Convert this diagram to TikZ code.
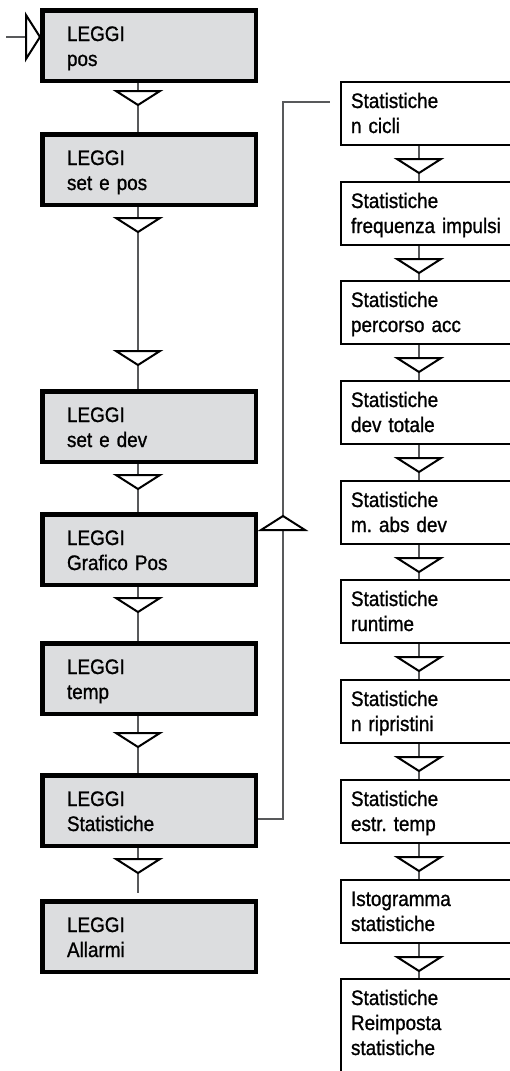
\documentclass[tikz,border=0pt]{standalone}
\usepackage{fontspec}
\setmainfont{Liberation Sans}[FakeStretch=0.9, FakeBold=1]
\usetikzlibrary{calc}
\definecolor{boxgray}{HTML}{DCDDDF}
\definecolor{linegray}{HTML}{58595B}
\tikzset{
  leggi/.style={draw=black, fill=boxgray, line width=2.25pt, anchor=north west,
    text width=82pt, align=left, inner xsep=12.375pt, inner ysep=4.125pt,
    text height=11.25pt, text depth=15.75pt, font=\fontsize{10.5}{12.5}\selectfont},
  statbox/.style={draw=black, fill=white, line width=1pt, anchor=north west,
    text width=85pt, align=left, inner xsep=5pt, inner ysep=1.75pt,
    text height=11.25pt, text depth=16.75pt, font=\fontsize{10.5}{12.5}\selectfont},
  conn/.style={draw=linegray, line width=0.6pt},
  tri/.style={draw=black, fill=white, line width=1pt},
  pics/tridown/.style={code={\path[tri] (-22,0) -- (22,0) -- (0,14) -- cycle;}},
  pics/triup/.style={code={\path[tri] (-22,14) -- (22,14) -- (0,0) -- cycle;}},
  pics/triright/.style={code={\path[tri] (-14,-22) -- (-14,22) -- (0,0) -- cycle;}},
}
\frenchspacing
\begin{document}
\begin{tikzpicture}[x=0.5pt, y=-0.5pt]
    \useasboundingbox (0,0) rectangle (509,1071);
    \coordinate (lx) at (138,0);
    \coordinate (rx) at (419,0);
    \coordinate (start) at (6,37);

    % colonna LEGGI
    \node[leggi] (pos) at (40,8) {LEGGI\\pos};
    \node[leggi] (setpos) at (40,132) {LEGGI\\set e pos};
    \node[leggi] (setdev) at (40,389) {LEGGI\\set e dev};
    \node[leggi] (grafico) at (40,512) {LEGGI\\Grafico Pos};
    \node[leggi] (temp) at (40,641) {LEGGI\\temp};
    \node[leggi] (stat) at (40,773) {LEGGI\\Statistiche};
    \node[leggi] (allarmi) at (40,899) {LEGGI\\Allarmi};

    % colonna Statistiche
    \node[statbox] (ncicli) at (340,81) {Statistiche\\n cicli};
    \node[statbox] (freq) at (340,181) {Statistiche\\frequenza impulsi};
    \node[statbox] (percorso) at (340,280) {Statistiche\\percorso acc};
    \node[statbox] (devtot) at (340,380) {Statistiche\\dev totale};
    \node[statbox] (absdev) at (340,480) {Statistiche\\m. abs dev};
    \node[statbox] (runtime) at (340,579) {Statistiche\\runtime};
    \node[statbox] (ripristini) at (340,679) {Statistiche\\n ripristini};
    \node[statbox] (estr) at (340,779) {Statistiche\\estr. temp};
    \node[statbox] (isto) at (340,879) {Istogramma\\statistiche};
    \node[statbox, text depth=60pt] (reset) at (340,978) {Statistiche\\Reimposta\\statistiche};

    % collegamenti a sinistra
    \draw[conn] (start) -- (pos.west |- start);
    \draw[conn] (pos.south -| lx) -- (setpos.north -| lx);
    \draw[conn] (setpos.south -| lx) -- (setdev.north -| lx);
    \draw[conn] (setdev.south -| lx) -- (grafico.north -| lx);
    \draw[conn] (grafico.south -| lx) -- (temp.north -| lx);
    \draw[conn] (temp.south -| lx) -- (stat.north -| lx);
    \draw[conn, shorten >=3pt] (stat.south -| lx) -- (allarmi.north -| lx);

    % ritorno verso le statistiche
    \draw[conn, shorten >=5pt] (stat.east |- 0,819) -| (283,102) -- (ncicli.west |- 0,102);

    % collegamenti a destra
    \draw[conn] (ncicli.south -| rx) -- (freq.north -| rx);
    \draw[conn] (freq.south -| rx) -- (percorso.north -| rx);
    \draw[conn] (percorso.south -| rx) -- (devtot.north -| rx);
    \draw[conn] (devtot.south -| rx) -- (absdev.north -| rx);
    \draw[conn] (absdev.south -| rx) -- (runtime.north -| rx);
    \draw[conn] (runtime.south -| rx) -- (ripristini.north -| rx);
    \draw[conn] (ripristini.south -| rx) -- (estr.north -| rx);
    \draw[conn] (estr.south -| rx) -- (isto.north -| rx);
    \draw[conn] (isto.south -| rx) -- (reset.north -| rx);

    % triangoli
    \pic at (pos.west |- start) {triright};
    \pic at (138,91) {tridown};
    \pic at (138,218) {tridown};
    \pic at (138,351) {tridown};
    \pic at (138,475) {tridown};
    \pic at (138,598) {tridown};
    \pic at (138,733) {tridown};
    \pic at (138,859) {tridown};
    \pic at (283,516) {triup};
    \pic at (419,159) {tridown};
    \pic at (419,259) {tridown};
    \pic at (419,358) {tridown};
    \pic at (419,458) {tridown};
    \pic at (419,558) {tridown};
    \pic at (419,657) {tridown};
    \pic at (419,757) {tridown};
    \pic at (419,857) {tridown};
    \pic at (419,957) {tridown};
\end{tikzpicture}
\end{document}
